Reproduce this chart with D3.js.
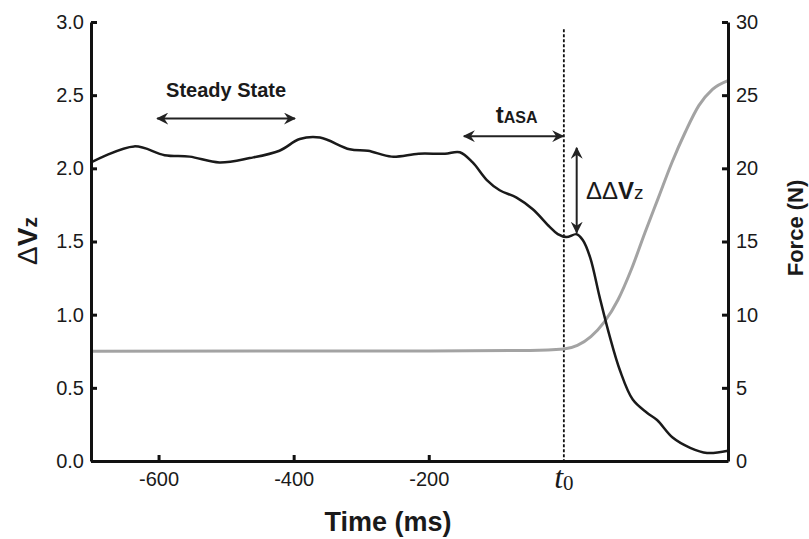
<!DOCTYPE html>
<html>
<head>
<meta charset="utf-8">
<script src="https://cdn.jsdelivr.net/npm/d3@7"></script>
<style>
  body { margin: 0; background: #fff; }
  text { font-family: "Liberation Sans", Arial, sans-serif; fill: #1a1a1a; }
</style>
</head>
<body>
<div id="chart"></div>
<script>
// black trace: delta Vz over time
var timeMs = [-700, -636, -591, -554, -510, -465, -421, -391, -361, -317, -290, -255, -215, -176, -154,
              -135, -114, -95, -70, -46, -21, -9, 4, 19, 28, 39, 53, 68, 83, 102, 123, 138, 161, 187, 212, 243];
var deltaVz = [2.04, 2.15, 2.09, 2.08, 2.04, 2.07, 2.12, 2.20, 2.21, 2.13, 2.12, 2.08, 2.10, 2.10, 2.11,
               2.04, 1.92, 1.85, 1.80, 1.72, 1.60, 1.55, 1.53, 1.55, 1.51, 1.39, 1.12, 0.85, 0.62, 0.42, 0.33, 0.28, 0.16, 0.09, 0.055, 0.07];

// grey trace: grip force
var forceTime = [-700, -200, -50, 0, 20, 40, 60, 80, 100, 120, 140, 160, 180, 200, 220, 243];
var forceN = [7.5, 7.52, 7.55, 7.65, 7.9, 8.5, 9.5, 11.0, 13.1, 15.6, 18.0, 20.4, 22.5, 24.3, 25.4, 26.0];

var xTicks = [-600, -400, -200];
var leftTicks = [0, 0.5, 1.0, 1.5, 2.0, 2.5, 3.0];
var rightTicks = [0, 5, 10, 15, 20, 25, 30];

var width = 809, height = 539;

var svg = d3.select('#chart').append('svg')
  .attr('width', width)
  .attr('height', height);

var x = d3.scaleLinear().domain([-700, 243]).range([91, 728]);
var yL = d3.scaleLinear().domain([0, 3]).range([461, 22]);
var yR = d3.scaleLinear().domain([0, 30]).range([461, 22]);

// arrow markers
var defs = svg.append('defs');
defs.append('marker')
  .attr('id', 'head')
  .attr('viewBox', '0 0 12 12')
  .attr('refX', 11).attr('refY', 6)
  .attr('markerWidth', 12).attr('markerHeight', 12)
  .attr('markerUnits', 'userSpaceOnUse')
  .attr('orient', 'auto-start-reverse')
  .append('path')
  .attr('d', 'M0,0 L12,6 L0,12 L4,6 Z')
  .attr('fill', '#222');

// dashed t0 line
svg.append('line')
  .attr('x1', x(0)).attr('x2', x(0))
  .attr('y1', yL(2.95)).attr('y2', yL(0))
  .attr('stroke', '#111')
  .attr('stroke-width', 1.8)
  .attr('stroke-dasharray', '3,2');

// force line
var forcePts = forceTime.map(function(t, i){ return [t, forceN[i]]; });
svg.append('path')
  .datum(forcePts)
  .attr('fill', 'none')
  .attr('stroke', '#a3a3a3')
  .attr('stroke-width', 3)
  .attr('d', d3.line()
    .x(function(d){ return x(d[0]); })
    .y(function(d){ return yR(d[1]); })
    .curve(d3.curveMonotoneX));

// delta Vz line
var vzPts = timeMs.map(function(t, i){ return [t, deltaVz[i]]; });
svg.append('path')
  .datum(vzPts)
  .attr('fill', 'none')
  .attr('stroke', '#1a1a1a')
  .attr('stroke-width', 2.5)
  .attr('d', d3.line()
    .x(function(d){ return x(d[0]); })
    .y(function(d){ return yL(d[1]); })
    .curve(d3.curveCatmullRom));

// axes
var gx = svg.append('g')
  .attr('transform', 'translate(0,' + yL(0) + ')')
  .call(d3.axisBottom(x).tickValues(xTicks).tickFormat(function(d){ return String(d); })
    .tickSizeInner(-6).tickSizeOuter(0).tickPadding(11));

var gl = svg.append('g')
  .attr('transform', 'translate(' + x.range()[0] + ',0)')
  .call(d3.axisLeft(yL).tickValues(leftTicks).tickFormat(function(d){ return d.toFixed(1); })
    .tickSizeInner(-6).tickSizeOuter(0).tickPadding(7));

var gr = svg.append('g')
  .attr('transform', 'translate(' + x.range()[1] + ',0)')
  .call(d3.axisRight(yR).tickValues(rightTicks).tickSizeInner(-6).tickSizeOuter(0).tickPadding(8));

[gx, gl, gr].forEach(function(g){
  g.select('.domain').attr('stroke', '#111').attr('stroke-width', 3);
  g.selectAll('.tick line').attr('stroke', '#111').attr('stroke-width', 3);
  g.selectAll('.tick text').attr('font-size', 20).attr('fill', '#1a1a1a')
    .style('font-family', '"Liberation Sans", Arial, sans-serif');
});

// t0 label
var t0 = svg.append('text')
  .attr('x', x(0)).attr('y', 488)
  .attr('text-anchor', 'middle')
  .style('font-family', '"Liberation Serif", "Times New Roman", serif')
  .attr('font-size', 32);
t0.append('tspan').style('font-style', 'italic').text('t');
t0.append('tspan').attr('font-size', 21).attr('dy', 2).style('font-style', 'normal').text('0');

// axis titles
svg.append('text')
  .attr('x', 388).attr('y', 531)
  .attr('text-anchor', 'middle')
  .attr('font-size', 27)
  .attr('font-weight', 'bold')
  .text('Time (ms)');

var yt = svg.append('text')
  .attr('transform', 'translate(37,241) rotate(-90)')
  .attr('text-anchor', 'middle')
  .attr('font-size', 28);
yt.append('tspan').text('Δ');
yt.append('tspan').attr('font-weight', 'bold').text('V');
yt.append('tspan').attr('font-weight', 'bold').attr('font-size', 21).text('z');

svg.append('text')
  .attr('transform', 'translate(803,228) rotate(-90)')
  .attr('text-anchor', 'middle')
  .attr('font-size', 22)
  .attr('font-weight', 'bold')
  .text('Force (N)');

// annotations
function arrow(x1, y1, x2, y2){
  svg.append('line')
    .attr('x1', x1).attr('y1', y1).attr('x2', x2).attr('y2', y2)
    .attr('stroke', '#222').attr('stroke-width', 2)
    .attr('marker-start', 'url(#head)')
    .attr('marker-end', 'url(#head)');
}

svg.append('text')
  .attr('x', x(-500)).attr('y', 97)
  .attr('text-anchor', 'middle')
  .attr('font-size', 20)
  .attr('font-weight', 'bold')
  .text('Steady State');
arrow(x(-602), yL(2.34), x(-398), yL(2.34));

var ta = svg.append('text')
  .attr('x', x(-70)).attr('y', 123)
  .attr('text-anchor', 'middle')
  .attr('font-weight', 'bold');
ta.append('tspan').attr('font-size', 24).text('t');
ta.append('tspan').attr('font-size', 16).text('ASA');
arrow(x(-148), yL(2.22), x(-1), yL(2.22));

arrow(x(19), yL(2.14), x(19), yL(1.56));
var dd = svg.append('text')
  .attr('x', 586).attr('y', 199)
  .attr('font-size', 24)
  .attr('fill', '#2a2a2a');
dd.append('tspan').text('ΔΔ');
dd.append('tspan').attr('font-weight', 'bold').text('V');
dd.append('tspan').attr('font-size', 19).text('z');
</script>
</body>
</html>
